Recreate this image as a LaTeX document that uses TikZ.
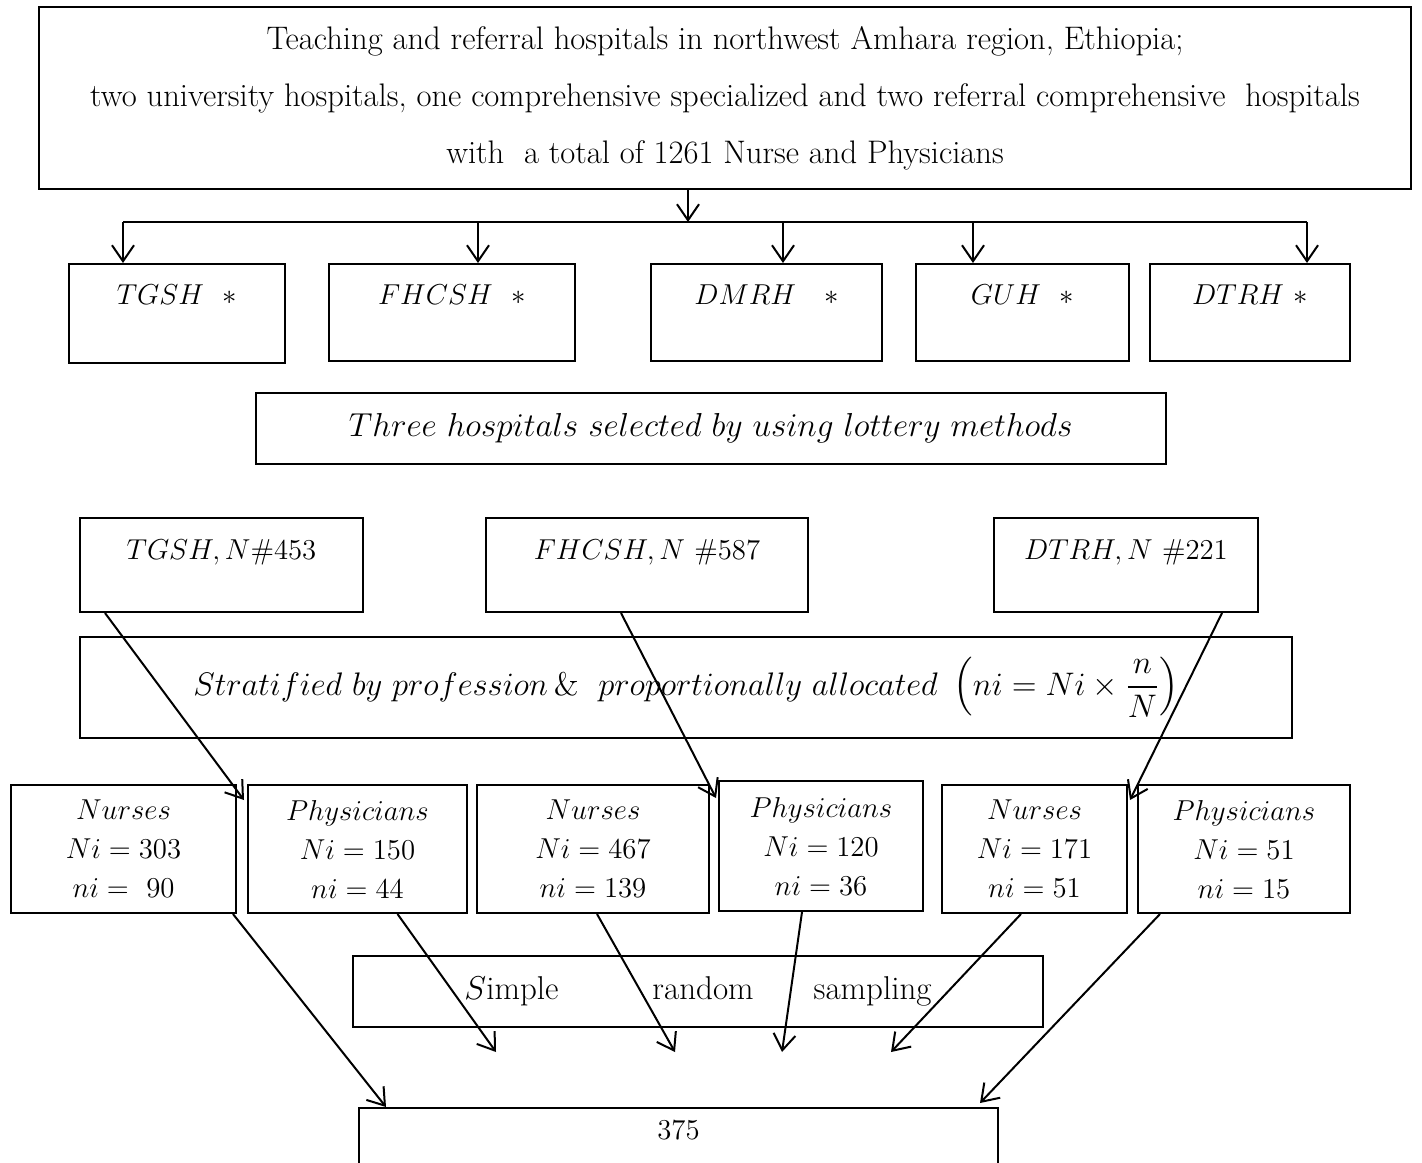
\RequirePackage{fix-cm}
\documentclass[tikz,border=0pt]{standalone}
\usepackage{amsmath}
\usepackage{amssymb}
\usetikzlibrary{arrows.meta}

\tikzset{
  box/.style={draw, line width=1pt, inner sep=0pt, align=center, font=\fontsize{14.4}{19.5}\selectfont},
  arr/.style={-{Straight Barb[length=8pt,width=11pt]}, line width=1pt},
}

\begin{document}
\begin{tikzpicture}[x=0.5pt,y=-0.5pt]
  \useasboundingbox (0,0) rectangle (1422,1162);
  % study area
  \node[box, anchor=north west, minimum width=686pt, minimum height=91pt, font=\fontsize{16.3}{28.5}\selectfont] (area) at (38,6)
    {Teaching and referral hospitals in northwest Amhara region, Ethiopia;\\
     two university hospitals, one comprehensive specialized and two referral comprehensive\ \ hospitals\\
     with\ \ a total of 1261 Nurse and Physicians};
  % all five hospitals
  \node[box, anchor=north west, minimum width=108pt, text height=20pt, text depth=29.5pt] (h1) at (68,263) {$TGSH\ \ *$};
  \node[box, anchor=north west, minimum width=123pt, text height=20pt, text depth=28.5pt] (h2) at (328,263) {$FHCSH\ \ *$};
  \node[box, anchor=north west, minimum width=115.5pt, text height=20pt, text depth=28.5pt] (h3) at (650,263) {$DMRH\ \ \ *$};
  \node[box, anchor=north west, minimum width=106.5pt, text height=20pt, text depth=28.5pt] (h4) at (915,263) {$GUH\ \ *$};
  \node[box, anchor=north west, minimum width=100pt, text height=20pt, text depth=28.5pt] (h5) at (1149,263) {$DTRH\ *$};
  \coordinate (split) at (688,222);
  \coordinate (t1) at ([xshift=-27pt]h1.north);
  \coordinate (t2) at ([xshift=13pt]h2.north);
  \coordinate (t3) at ([xshift=8.25pt]h3.north);
  \coordinate (t4) at ([xshift=-24.75pt]h4.north);
  \coordinate (t5) at ([xshift=28.5pt]h5.north);
  \draw[arr] (area.south -| split) -- (split);
  \draw[line width=1pt] (t1 |- split) -- (t5 |- split);
  \draw[arr] (t1 |- split) -- (t1);
  \draw[arr] (t2 |- split) -- (t2);
  \draw[arr] (t3 |- split) -- (t3);
  \draw[arr] (t4 |- split) -- (t4);
  \draw[arr] (t5 |- split) -- (t5);
  % lottery
  \node[box, anchor=north west, minimum width=455pt, minimum height=35.5pt, font=\fontsize{16.6}{19.5}\selectfont] (lot) at (255,392)
    {$Three\ hospitals\ selected\ by\ using\ lottery\ methods$};
  % selected hospitals
  \node[box, anchor=north west, minimum width=141.5pt, text height=20.5pt, text depth=26.5pt] (s1) at (79,517) {$TGSH,N\#453$};
  \node[box, anchor=north west, minimum width=161pt, text height=20.5pt, text depth=26.5pt] (s2) at (485,517) {$FHCSH,N\ \#587$};
  \node[box, anchor=north west, minimum width=132pt, text height=20.5pt, text depth=26.5pt] (s3) at (993,517) {$DTRH,N\ \#221$};
  % stratification
  \node[box, anchor=north west, minimum width=606pt, minimum height=50.5pt, font=\fontsize{16.3}{19.5}\selectfont] (strat) at (79,636)
    {$Stratified\ by\ profession\,\&\ \ proportionally\ allocated\ \left(ni=Ni\times\dfrac{n}{N}\right)$};
  % strata
  \node[box, anchor=north west, minimum width=112.5pt, minimum height=64pt] (n1) at (10,784) {$Nurses$\\$Ni=303$\\$ni=\ 90$};
  \node[box, anchor=north west, minimum width=109.5pt, minimum height=64pt] (p1) at (247,784) {$Physicians$\\$Ni=150$\\$ni=44$};
  \node[box, anchor=north west, minimum width=116pt, minimum height=64pt] (n2) at (476,784) {$Nurses$\\$Ni=467$\\$ni=139$};
  \node[box, anchor=north west, minimum width=102pt, minimum height=65pt] (p2) at (718,780) {$Physicians$\\$Ni=120$\\$ni=36$};
  \node[box, anchor=north west, minimum width=92.5pt, minimum height=64pt] (n3) at (941,784) {$Nurses$\\$Ni=171$\\$ni=51$};
  \node[box, anchor=north west, minimum width=106pt, minimum height=64pt] (p3) at (1137,784) {$Physicians$\\$Ni=51$\\$ni=15$};
  \draw[arr] ([xshift=13pt]s1.south west) -- ([xshift=3.5pt,yshift=-8pt]n1.north east);
  \draw[arr] ([xshift=68pt]s2.south west) -- ([xshift=-1pt,yshift=-9pt]p2.north west);
  \draw[arr] ([xshift=-18.5pt]s3.south east) -- ([xshift=1pt,yshift=-8pt]n3.north east);
  % sampling
  \node[box, anchor=north west, minimum width=345pt, minimum height=35.5pt, font=\fontsize{16.5}{19.5}\selectfont] (srs) at (352,955)
    {$S$imple\hspace{47pt}random\hspace{30pt}sampling};
  \node[box, anchor=north west, minimum width=319.5pt, text height=15.5pt, text depth=25pt] (total) at (358,1107) {375};
  \draw[arr] ([xshift=-2pt]n1.south east) -- ([xshift=14pt]total.north west);
  \draw[arr] ([xshift=20pt]p1.south) -- ([xshift=69pt,yshift=27.5pt]total.north west);
  \draw[arr] ([xshift=2pt]n2.south) -- ([xshift=158.5pt,yshift=27.5pt]total.north west);
  \draw[arr] ([xshift=-9.5pt]p2.south) -- ([xshift=212pt,yshift=27.5pt]total.north west);
  \draw[arr] ([xshift=-6.75pt]n3.south) -- ([xshift=266.5pt,yshift=27.5pt]total.north west);
  \draw[arr] ([xshift=11.5pt]p3.south west) -- ([xshift=-9.5pt,yshift=2pt]total.north east);
\end{tikzpicture}
\end{document}
